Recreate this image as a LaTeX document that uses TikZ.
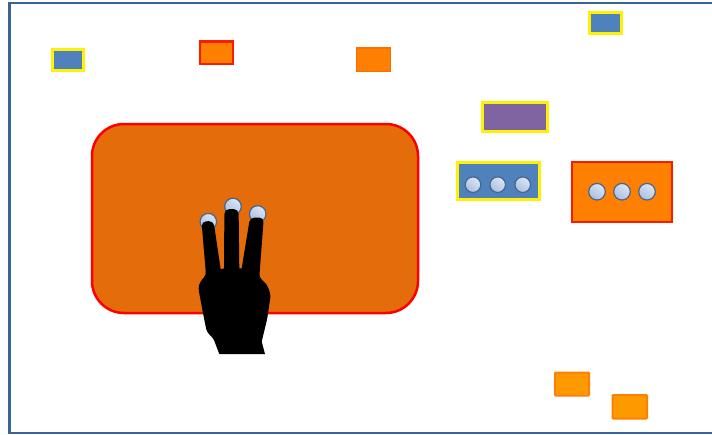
\documentclass[tikz,border=0pt]{standalone}
\usepackage{tikz}

\definecolor{framecol}{HTML}{3A6495}
\definecolor{padcol}{HTML}{E46C0A}
\definecolor{bluecol}{HTML}{4F81BD}
\definecolor{purplecol}{HTML}{8064A2}
\definecolor{orangecol}{HTML}{FF8000}
\definecolor{ambercol}{HTML}{FF9900}
\definecolor{dotedge}{HTML}{44678F}
\definecolor{dotlight}{HTML}{DDE6F4}
\definecolor{dotdark}{HTML}{A9BFE0}

\tikzset{
  bluebox/.style={fill=bluecol,draw=yellow,line width=3pt},
  purplebox/.style={fill=purplecol,draw=yellow,line width=3pt},
  redbox/.style={fill=orangecol,draw=red!80!orange,line width=2.4pt},
  amberbox/.style={fill=ambercol,draw=orangecol,line width=2pt,rounded corners=0.8pt},
  touchdot/.style={draw=dotedge,line width=1.2pt,top color=dotlight,bottom color=dotdark,shading angle=-35},
}

\begin{document}
\begin{tikzpicture}[x=1pt,y=-1pt]
\useasboundingbox (0,0) rectangle (712,434);
\fill[white] (0,0) rectangle (712,434);

% screen frame
\draw[framecol,line width=2.6pt] (712,3) -- (9.5,3) -- (9.5,433) -- (712,433);

% window being moved
\draw[fill=padcol,draw=red,line width=2.5pt,rounded corners=32pt] (92,124) rectangle (418,313);

% small windows
\draw[bluebox] (52,49.5) rectangle (83.5,70);
\draw[redbox] (200,41.5) rectangle (233,64);
\draw[fill=orangecol,draw=orangecol!85!red,line width=1.8pt] (356.5,48) rectangle (390.5,71.5);
\draw[bluebox] (589.5,12) rectangle (621.5,33.5);
\draw[purplebox] (482,102) rectangle (547.5,131);
\draw[amberbox] (555,372.5) rectangle (589,395.5);
\draw[amberbox] (612.5,395) rectangle (647,418.5);

% windows with three dots
\draw[bluebox] (457,162.5) rectangle (539,199);
\draw[redbox] (572,162) rectangle (672,222);
\foreach \x in {473,497.7,522.7}
    \shade[touchdot] (\x,184.7) circle (7.8);
\foreach \x in {597,622,647}
    \shade[touchdot] (\x,191.7) circle (8.3);

% finger tips
\shade[touchdot] (208.3,221.7) circle (8.3);
\shade[touchdot] (233,206.5) circle (8.3);
\shade[touchdot] (257.7,214) circle (8.3);

% hand
\fill[black,rounded corners=3pt] (201.5,221.5) -- (206,275) -- (200,282) -- (198.3,288)
    -- (202.7,311.7) -- (206.7,331.7) -- (213.3,338.3) [sharp corners] -- (219.3,354) -- (265,354)
    -- (261.7,341.7) [rounded corners=3pt] -- (267.3,318.3) -- (270.7,295) -- (267.3,285) -- (259.3,277.3)
    [rounded corners=4.5pt] -- (263.8,217.5) -- (250,217.5) [sharp corners] -- (241.7,268.3) -- (239.3,268.3)
    [rounded corners=5pt] -- (238.6,209) -- (224.4,209) [sharp corners] -- (224,268.3) -- (220.7,269.3)
    [rounded corners=4.5pt] -- (213.5,221) -- cycle;
\end{tikzpicture}
\end{document}
